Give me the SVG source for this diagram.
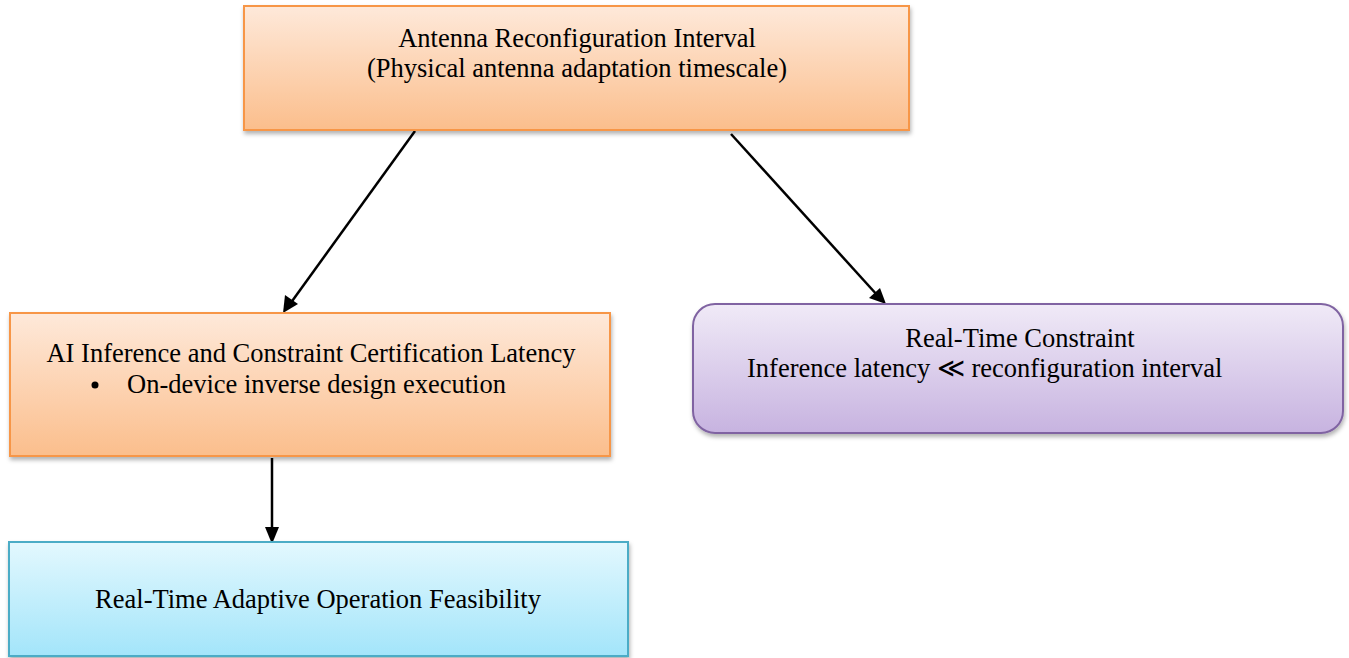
<svg xmlns="http://www.w3.org/2000/svg" width="1349" height="658" viewBox="0 0 1349 658">
<style>
text{font-family:"Liberation Serif","Times New Roman",serif;font-size:26.5px;fill:#000}
.orange{stroke:#F79646;stroke-width:2}
.purple{stroke:#8064A2;stroke-width:2}
.cyan{stroke:#4BACC6;stroke-width:2}
.conn{stroke:#000;stroke-width:2.5;fill:none}
.head{fill:#000}
</style>
<defs>
<linearGradient id="gO" x1="0" y1="0" x2="0" y2="1"><stop offset="0" stop-color="#FEE9DA"/><stop offset="1" stop-color="#FBBE8C"/></linearGradient>
<linearGradient id="gP" x1="0" y1="0" x2="0" y2="1"><stop offset="0" stop-color="#F0EAF7"/><stop offset="1" stop-color="#C7B3E0"/></linearGradient>
<linearGradient id="gC" x1="0" y1="0" x2="0" y2="1"><stop offset="0" stop-color="#E3F8FE"/><stop offset="1" stop-color="#A3E5FA"/></linearGradient>
<filter id="sh" x="-5%" y="-10%" width="110%" height="125%"><feDropShadow dx="1" dy="3" stdDeviation="2" flood-color="#000" flood-opacity="0.3"/></filter>
</defs>
<g id="connectors">
<line class="conn" x1="415" y1="131" x2="290" y2="304"/>
<path class="head" d="M283,313 L285,295 L298,304 z"/>
<line class="conn" x1="731" y1="134" x2="878" y2="296"/>
<path class="head" d="M886,304 L869,298 L880,288 z"/>
<line class="conn" x1="272" y1="458" x2="272" y2="530"/>
<path class="head" d="M272,544 L265,527 L279,527 z"/>
</g>
<g id="node-antenna">
<rect x="244" y="6" width="665" height="124" fill="url(#gO)" class="orange" filter="url(#sh)"/>
<text x="577" y="47" text-anchor="middle">Antenna Reconfiguration Interval</text>
<text x="577" y="77" text-anchor="middle">(Physical antenna adaptation timescale)</text>
</g>
<g id="node-ai">
<rect x="10" y="313" width="600" height="143" fill="url(#gO)" class="orange" filter="url(#sh)"/>
<text x="311" y="362" text-anchor="middle">AI Inference and Constraint Certification Latency</text>
<circle cx="95" cy="385" r="3.5" fill="#000"/>
<text x="127" y="393">On-device inverse design execution</text>
</g>
<g id="node-realtime">
<rect x="693" y="304" width="650" height="129" rx="22" ry="22" fill="url(#gP)" class="purple" filter="url(#sh)"/>
<text x="1020" y="347" text-anchor="middle">Real-Time Constraint</text>
<text x="747" y="377">Inference latency ≪ reconfiguration interval</text>
</g>
<g id="node-feasibility">
<rect x="9" y="542" width="619" height="114" fill="url(#gC)" class="cyan" filter="url(#sh)"/>
<text x="318" y="608" text-anchor="middle">Real-Time Adaptive Operation Feasibility</text>
</g>
</svg>
